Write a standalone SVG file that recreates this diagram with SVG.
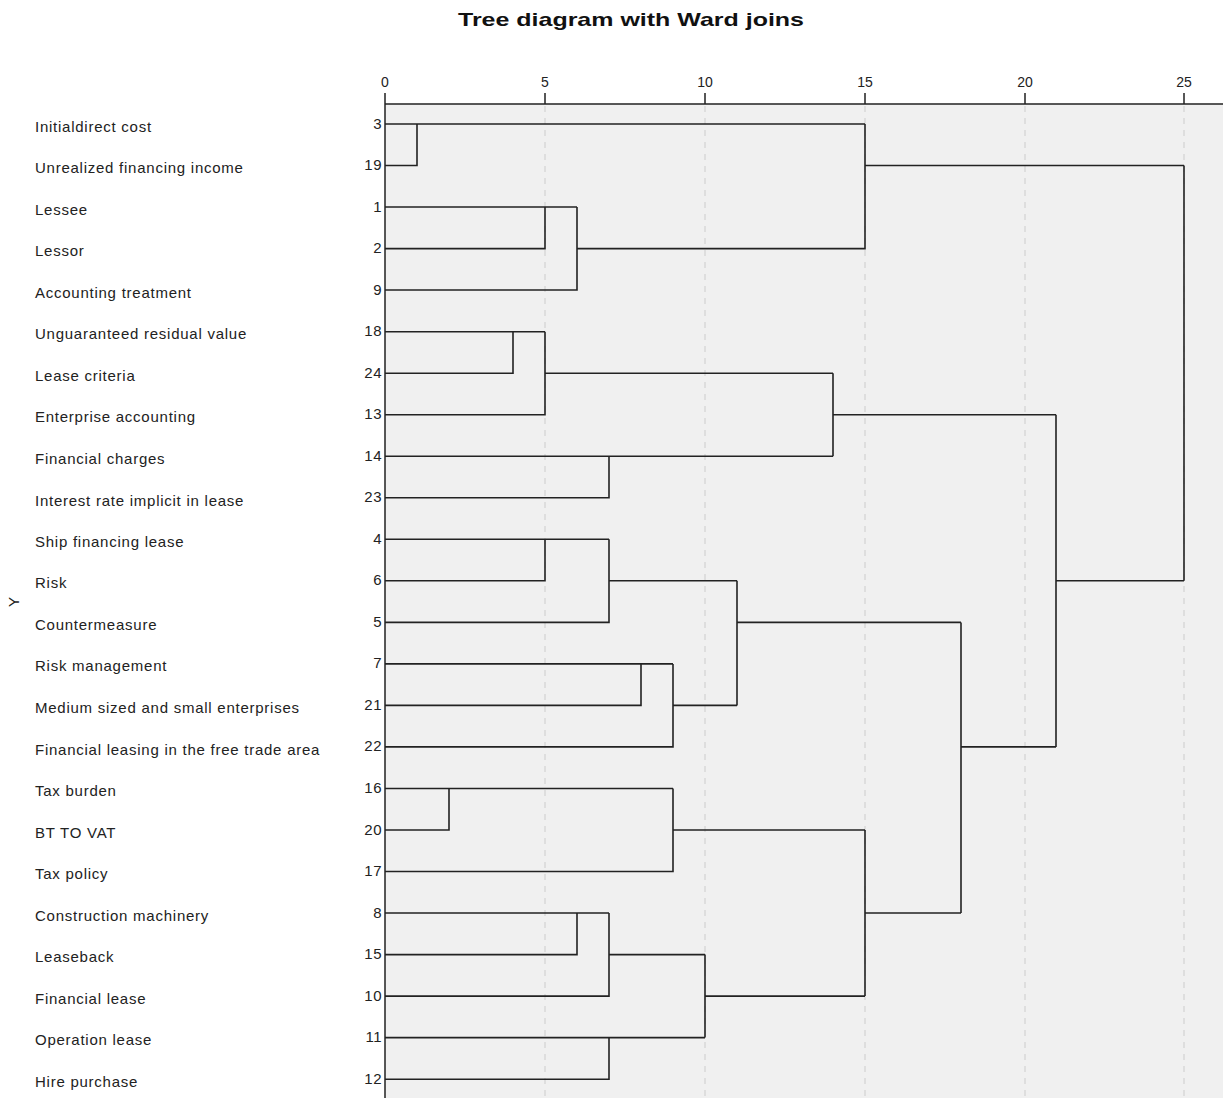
<svg xmlns="http://www.w3.org/2000/svg" width="1223" height="1098" viewBox="0 0 1223 1098">
<style>
.lbl{font-family:"Liberation Sans",Arial,sans-serif;font-size:15px;letter-spacing:0.75px;fill:#222}
.num{font-family:"Liberation Sans",Arial,sans-serif;font-size:15px;letter-spacing:0.5px;fill:#222;text-anchor:end}
.tick{font-family:"Liberation Sans",Arial,sans-serif;font-size:14px;fill:#222;text-anchor:middle}
.grid{stroke:#d2d2d2;stroke-width:1.2;stroke-dasharray:6 6}
.axis{stroke:#222;stroke-width:1.5;fill:none}
.den path{stroke:#222;stroke-width:1.6;fill:none}
</style>
<rect x="0" y="0" width="1223" height="1098" fill="#fff"/>
<rect x="385" y="104" width="838" height="994" fill="#f0f0f0"/>
<text x="631" y="26" font-family="Liberation Sans,Arial,sans-serif" font-size="19" font-weight="bold" text-anchor="middle" fill="#111" textLength="346" lengthAdjust="spacingAndGlyphs">Tree diagram with Ward joins</text>
<g id="grid">
<line class="grid" x1="545" y1="106" x2="545" y2="1098"/>
<line class="grid" x1="705" y1="106" x2="705" y2="1098"/>
<line class="grid" x1="865" y1="106" x2="865" y2="1098"/>
<line class="grid" x1="1025" y1="106" x2="1025" y2="1098"/>
<line class="grid" x1="1184" y1="106" x2="1184" y2="1098"/>
</g>
<g id="axis">
<path class="axis" d="M385 104H1223M385 93V1098M545 93V104M705 93V104M865 93V104M1025 93V104M1184 93V104"/>
<text class="tick" x="385" y="87">0</text>
<text class="tick" x="545" y="87">5</text>
<text class="tick" x="705" y="87">10</text>
<text class="tick" x="865" y="87">15</text>
<text class="tick" x="1025" y="87">20</text>
<text class="tick" x="1184" y="87">25</text>
<text x="14" y="607" font-family="Liberation Sans,Arial,sans-serif" font-size="15" fill="#222" text-anchor="middle" transform="rotate(-90 14 602)">Y</text>
</g>
<g id="labels">
<g id="n3"><text class="lbl" x="35" y="132">Initialdirect cost</text><text class="num" x="382" y="129">3</text></g>
<g id="n19"><text class="lbl" x="35" y="173">Unrealized financing income</text><text class="num" x="382" y="170">19</text></g>
<g id="n1"><text class="lbl" x="35" y="215">Lessee</text><text class="num" x="382" y="212">1</text></g>
<g id="n2"><text class="lbl" x="35" y="256">Lessor</text><text class="num" x="382" y="253">2</text></g>
<g id="n9"><text class="lbl" x="35" y="298">Accounting treatment</text><text class="num" x="382" y="295">9</text></g>
<g id="n18"><text class="lbl" x="35" y="339">Unguaranteed residual value</text><text class="num" x="382" y="336">18</text></g>
<g id="n24"><text class="lbl" x="35" y="381">Lease criteria</text><text class="num" x="382" y="378">24</text></g>
<g id="n13"><text class="lbl" x="35" y="422">Enterprise accounting</text><text class="num" x="382" y="419">13</text></g>
<g id="n14"><text class="lbl" x="35" y="464">Financial charges</text><text class="num" x="382" y="461">14</text></g>
<g id="n23"><text class="lbl" x="35" y="506">Interest rate implicit in lease</text><text class="num" x="382" y="502">23</text></g>
<g id="n4"><text class="lbl" x="35" y="547">Ship financing lease</text><text class="num" x="382" y="544">4</text></g>
<g id="n6"><text class="lbl" x="35" y="588">Risk</text><text class="num" x="382" y="585">6</text></g>
<g id="n5"><text class="lbl" x="35" y="630">Countermeasure</text><text class="num" x="382" y="627">5</text></g>
<g id="n7"><text class="lbl" x="35" y="671">Risk management</text><text class="num" x="382" y="668">7</text></g>
<g id="n21"><text class="lbl" x="35" y="713">Medium sized and small enterprises</text><text class="num" x="382" y="710">21</text></g>
<g id="n22"><text class="lbl" x="35" y="755">Financial leasing in the free trade area</text><text class="num" x="382" y="751">22</text></g>
<g id="n16"><text class="lbl" x="35" y="796">Tax burden</text><text class="num" x="382" y="793">16</text></g>
<g id="n20"><text class="lbl" x="35" y="838">BT TO VAT</text><text class="num" x="382" y="835">20</text></g>
<g id="n17"><text class="lbl" x="35" y="879">Tax policy</text><text class="num" x="382" y="876">17</text></g>
<g id="n8"><text class="lbl" x="35" y="921">Construction machinery</text><text class="num" x="382" y="918">8</text></g>
<g id="n15"><text class="lbl" x="35" y="962">Leaseback</text><text class="num" x="382" y="959">15</text></g>
<g id="n10"><text class="lbl" x="35" y="1004">Financial lease</text><text class="num" x="382" y="1001">10</text></g>
<g id="n11"><text class="lbl" x="35" y="1045">Operation lease</text><text class="num" x="382" y="1042">11</text></g>
<g id="n12"><text class="lbl" x="35" y="1087">Hire purchase</text><text class="num" x="382" y="1084">12</text></g>
</g>
<g id="connectors" class="den">
<path d="M385 124H865M385 165.5H417V124"/>
<path d="M385 207H577M385 248.6H545V207M385 290H577V207M577 248.6H865V124M865 165.5H1184"/>
<path d="M385 331.7H545M385 373.2H513V331.7M385 414.7H545V331.7M545 373.2H833"/>
<path d="M385 456.2H833M385 497.8H609V456.2M833 373.2V456.2M833 414.7H1056"/>
<path d="M385 539.3H609M385 580.8H545V539.3M385 622.4H609V539.3M609 580.8H737"/>
<path d="M385 663.9H673M385 705.4H641V663.9M385 746.9H673V663.9M673 705.4H737M737 580.8V705.4M737 622.4H961"/>
<path d="M385 788.5H673M385 830H449V788.5M385 871.5H673V788.5M673 830H865"/>
<path d="M385 913H609M385 954.6H577V913M385 996.1H609V913M609 954.6H705"/>
<path d="M385 1037.6H705M385 1079.2H609V1037.6M705 954.6V1037.6M705 996.1H865M865 830V996.1M865 913H961M961 622.4V913M961 746.9H1056M1056 414.7V746.9M1056 580.8H1184M1184 165.5V580.8"/>
</g>
</svg>
